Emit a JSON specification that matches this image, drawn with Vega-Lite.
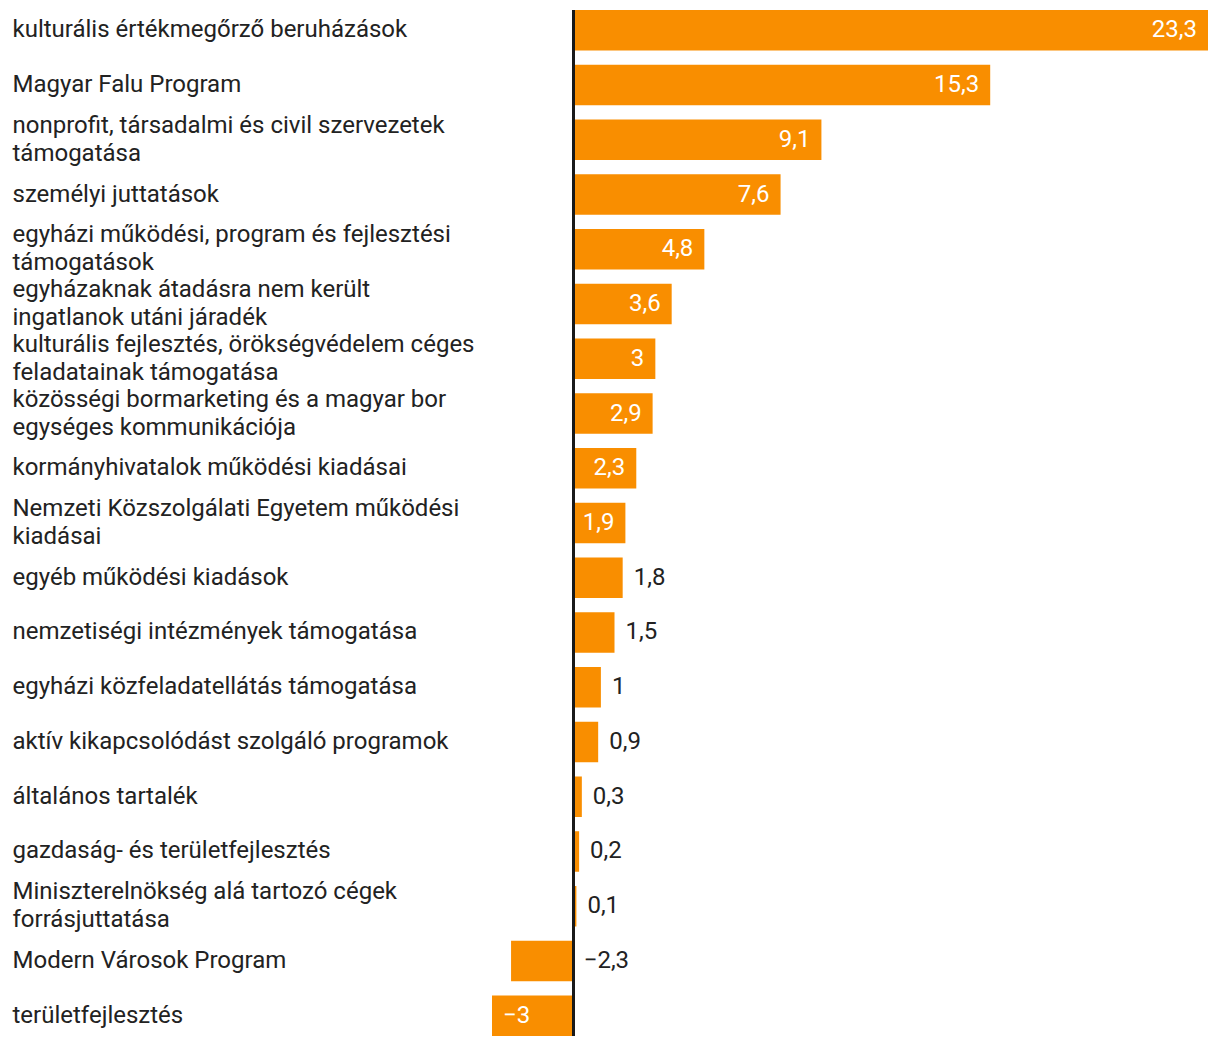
{
  "$schema": "https://vega.github.io/schema/vega-lite/v6.json",
  "autosize": {"type": "none"},
  "padding": {"left": 492, "top": 10, "right": 12, "bottom": 12},
  "width": 716,
  "height": 1026,
  "background": "#ffffff",
  "config": {
    "view": {"stroke": null},
    "font": "Roboto",
    "locale": {"number": {"decimal": ",", "thousands": " ", "grouping": [3], "currency": ["", " Ft"], "minus": "\u2212"}}
  },
  "data": {
    "values": [
      {"label": "kulturális értékmegőrző beruházások", "v": 23.3},
      {"label": "Magyar Falu Program", "v": 15.3},
      {"label": "nonprofit, társadalmi és civil szervezetek|támogatása", "v": 9.1},
      {"label": "személyi juttatások", "v": 7.6},
      {"label": "egyházi működési, program és fejlesztési|támogatások", "v": 4.8},
      {"label": "egyházaknak átadásra nem került|ingatlanok utáni járadék", "v": 3.6},
      {"label": "kulturális fejlesztés, örökségvédelem céges|feladatainak támogatása", "v": 3},
      {"label": "közösségi bormarketing és a magyar bor|egységes kommunikációja", "v": 2.9},
      {"label": "kormányhivatalok működési kiadásai", "v": 2.3},
      {"label": "Nemzeti Közszolgálati Egyetem működési|kiadásai", "v": 1.9},
      {"label": "egyéb működési kiadások", "v": 1.8},
      {"label": "nemzetiségi intézmények támogatása", "v": 1.5},
      {"label": "egyházi közfeladatellátás támogatása", "v": 1},
      {"label": "aktív kikapcsolódást szolgáló programok", "v": 0.9},
      {"label": "általános tartalék", "v": 0.3},
      {"label": "gazdaság- és területfejlesztés", "v": 0.2},
      {"label": "Miniszterelnökség alá tartozó cégek|forrásjuttatása", "v": 0.1},
      {"label": "Modern Városok Program", "v": -2.3},
      {"label": "területfejlesztés", "v": -3}
    ]
  },
  "encoding": {
    "y": {
      "field": "label",
      "type": "nominal",
      "sort": null,
      "scale": {"paddingInner": 0.26, "paddingOuter": 0},
      "axis": {
        "title": null,
        "orient": "left",
        "domain": false,
        "ticks": false,
        "tickSize": 0,
        "labelPadding": 480,
        "labelAlign": "left",
        "labelBaseline": "middle",
        "labelFont": "Roboto",
        "labelFontSize": 24,
        "labelColor": "#222222",
        "labelLineHeight": 28,
        "labelLimit": 0,
        "labelOffset": {"condition": {"test": "indexof(datum.value, '|') >= 0", "value": -14}, "value": 0},
        "labelExpr": "split(datum.label, '|')"
      }
    }
  },
  "layer": [
    {
      "mark": {"type": "bar", "color": "#F98E00"},
      "encoding": {
        "x": {"field": "v", "type": "quantitative", "scale": {"domain": [-3, 23.3], "nice": false, "zero": true}, "axis": null}
      }
    },
    {
      "mark": {"type": "rule", "color": "#1a1a1a", "strokeWidth": 2},
      "encoding": {"x": {"datum": 0}, "y": null}
    },
    {
      "transform": [{"filter": "datum.v >= 1.9"}],
      "mark": {"type": "text", "align": "right", "baseline": "middle", "dx": -11, "fontSize": 24, "color": "#ffffff", "font": "Roboto"},
      "encoding": {"x": {"field": "v", "type": "quantitative"}, "text": {"field": "v", "type": "quantitative", "format": ".1~f"}}
    },
    {
      "transform": [{"filter": "datum.v >= 0 && datum.v < 1.9"}],
      "mark": {"type": "text", "align": "left", "baseline": "middle", "dx": 11, "fontSize": 24, "color": "#222222", "font": "Roboto"},
      "encoding": {"x": {"field": "v", "type": "quantitative"}, "text": {"field": "v", "type": "quantitative", "format": ".1~f"}}
    },
    {
      "transform": [{"filter": "datum.v < 0 && datum.v > -2.5"}],
      "mark": {"type": "text", "align": "left", "baseline": "middle", "dx": 10, "fontSize": 24, "color": "#222222", "font": "Roboto"},
      "encoding": {"x": {"datum": 0}, "text": {"field": "v", "type": "quantitative", "format": ".1~f"}}
    },
    {
      "transform": [{"filter": "datum.v <= -2.5"}],
      "mark": {"type": "text", "align": "left", "baseline": "middle", "dx": 11, "fontSize": 24, "color": "#ffffff", "font": "Roboto"},
      "encoding": {"x": {"field": "v", "type": "quantitative"}, "text": {"field": "v", "type": "quantitative", "format": ".1~f"}}
    }
  ]
}
